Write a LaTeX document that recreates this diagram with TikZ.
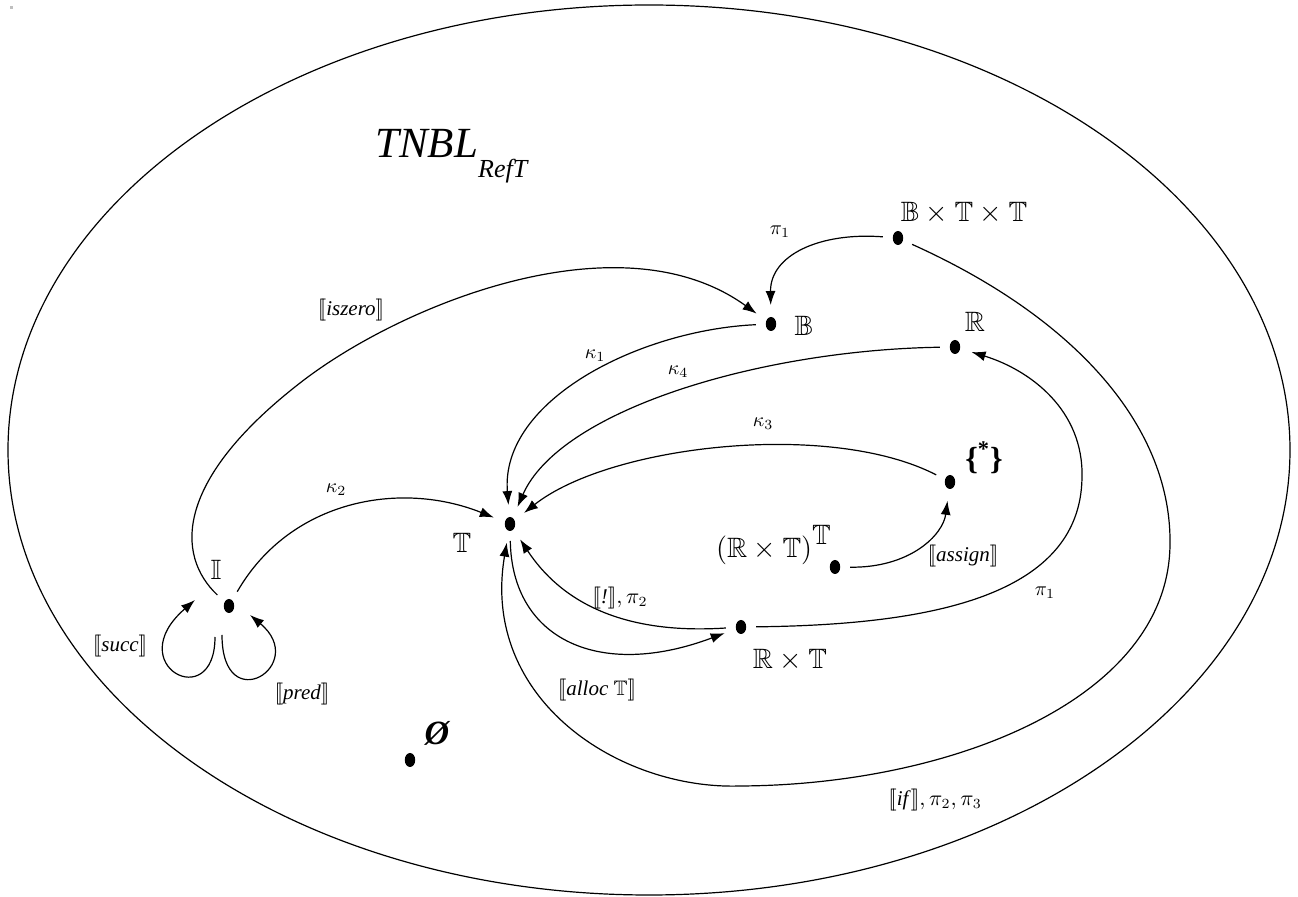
\documentclass[tikz,border=0pt]{standalone}
\usepackage{amssymb}
\usepackage{fontspec}
\setmainfont{Liberation Serif}
\usetikzlibrary{arrows.meta,shapes.geometric}
\newcommand{\sembr}[1]{$[\![$\textit{#1}$]\!]$}
\begin{document}
\begin{tikzpicture}[x=0.5pt,y=-0.5pt,
  dotnode/.style={ellipse,fill=black,inner sep=0pt,minimum width=5.2pt,minimum height=7pt,outer sep=4pt},
  arr/.style={-{Latex[length=7pt,width=5pt]},line width=0.6pt,shorten >=2pt,shorten <=1pt},
  lbl/.style={inner sep=0pt,anchor=center},
  setlbl/.style={lbl,font=\fontsize{14}{17}\selectfont},
  edgelbl/.style={lbl,font=\fontsize{10.5}{13}\selectfont},
  greeklbl/.style={lbl,font=\fontsize{10}{12}\selectfont}]
\useasboundingbox (0,0) rectangle (1298,897);
\fill[gray!50] (10,6) rectangle (13,9);
\draw[line width=0.6pt] (649,450) ellipse [x radius=641, y radius=445];

% title
\node[inner sep=0pt,anchor=base west] (title) at (375,158)
  {\fontsize{21.5}{26}\selectfont\itshape TNBL\raisebox{-10pt}{\fontsize{13}{15}\selectfont RefT}};

% dots
\node[dotnode] (btt) at (898,238) {};
\node[dotnode] (bb) at (771,324) {};
\node[dotnode] (rr) at (955,347) {};
\node[dotnode] (star) at (950,482) {};
\node[dotnode] (tt) at (510,524) {};
\node[dotnode] (fn) at (835,567) {};
\node[dotnode] (rt) at (741,627) {};
\node[dotnode] (ii) at (229,606) {};
\node[dotnode] (es) at (410,760) {};

% set labels
\node[setlbl] (lbtt) at (964,213) {$\mathbb{B}\times\mathbb{T}\times\mathbb{T}$};
\node[setlbl] (lbb) at (804,326) {$\mathbb{B}$};
\node[setlbl] (lrr) at (975,322) {$\mathbb{R}$};
\node[lbl,font=\fontsize{16}{19}\selectfont] (lstar) at (984,458) {\bfseries\{\textsuperscript{*}\}};
\node[setlbl] (ltt) at (462,543) {$\mathbb{T}$};
\node[setlbl] (lfn) at (774,545) {$\bigl(\mathbb{R}\times\mathbb{T}\bigr)^{\textstyle\mathbb{T}}$};
\node[setlbl] (lrt) at (790,660) {$\mathbb{R}\times\mathbb{T}$};
\node[setlbl] (lii) at (216,570) {$\mathbb{I}$};
\node[lbl,font=\fontsize{17}{20}\selectfont] (les) at (437,733) {\bfseries\itshape Ø};

% edges
\draw[arr] (btt) .. controls (820,232) and (770,255) .. (bb);
\draw[arr] (btt) .. controls (1080,320) and (1172,430) .. (1170,545)
  .. controls (1168,700) and (950,785) .. (740,786)
  .. controls (620,790) and (480,700) .. (tt);
\draw[arr] (rt) .. controls (920,625) and (1080,600) .. (1082,478)
  .. controls (1084,410) and (1030,370) .. (rr);
\draw[arr] (bb) .. controls (640,330) and (500,400) .. (tt);
\draw[arr] (rr) .. controls (760,350) and (560,410) .. (tt);
\draw[arr] (star) .. controls (830,420) and (610,445) .. (tt);
\draw[arr] (ii) .. controls (290,500) and (400,480) .. (tt);
\draw[arr] (ii) .. controls (175,555) and (175,480) .. (300,383)
  .. controls (400,305) and (620,215) .. (bb);
\draw[arr] (tt) .. controls (512,640) and (600,680) .. (rt);
\draw[arr] (rt) .. controls (620,635) and (560,600) .. (tt);
\draw[arr] (fn) .. controls (910,568) and (943,535) .. (star);
\draw[arr,shorten >=0pt,shorten <=0pt] ([shift={(-14,31)}]ii.center) .. controls (215,715) and (120,665) .. ([shift={(-34,-6)}]ii.center);
\draw[arr,shorten >=0pt,shorten <=0pt] ([shift={(-7,29)}]ii.center) .. controls (222,720) and (310,665) .. ([shift={(21,9)}]ii.center);

% edge labels
\node[greeklbl] (p1a) at (780,232) {$\pi_1$};
\node[edgelbl] (liszero) at (351,310) {\sembr{iszero}};
\node[greeklbl] (k1) at (595,356) {$\kappa_1$};
\node[greeklbl] (k4) at (678,372) {$\kappa_4$};
\node[greeklbl] (k3) at (763,424) {$\kappa_3$};
\node[greeklbl] (k2) at (336,490) {$\kappa_2$};
\node[edgelbl] (lbang) at (620,598) {\sembr{!}$,\pi_2$};
\node[edgelbl] (lalloc) at (597,690) {$[\![$\textit{alloc} $\mathbb{T}]\!]$};
\node[edgelbl] (lassign) at (963,556) {\sembr{assign}};
\node[greeklbl] (p1b) at (1045,593) {$\pi_1$};
\node[edgelbl] (lif) at (935,800) {\sembr{if}$,\pi_2,\pi_3$};
\node[edgelbl] (lsucc) at (120,646) {\sembr{succ}};
\node[edgelbl] (lpred) at (302,694) {\sembr{pred}};
\end{tikzpicture}
\end{document}
